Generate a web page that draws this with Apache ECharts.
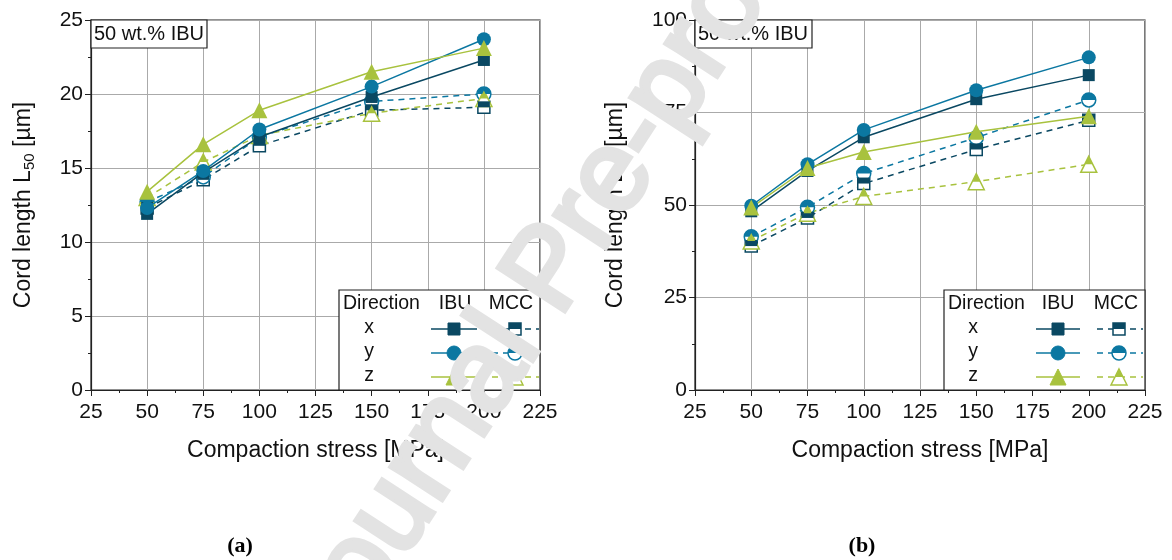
<!DOCTYPE html>
<html>
<head>
<meta charset="utf-8">
<script src="https://cdn.jsdelivr.net/npm/echarts@6.0.0/dist/echarts.min.js"></script>
<style>
html,body{margin:0;padding:0;background:#fff;}
#chart{width:1172px;height:560px;}
</style>
</head>
<body>
<div id="chart"></div>
<script>
// ---------- data ----------
const stress = [50, 75, 100, 150, 200];
// panel (a): L50
const aIBUx = [11.9, 14.7, 17.1, 19.8, 22.3];
const aIBUy = [12.3, 14.8, 17.6, 20.5, 23.7];
const aIBUz = [13.4, 16.6, 18.9, 21.5, 23.1];
const aMCCx = [12.3, 14.2, 16.5, 18.9, 19.1];
const aMCCy = [12.7, 14.4, 17.1, 19.5, 20.0];
const aMCCz = [13.0, 15.4, 17.2, 18.7, 19.7];
// panel (b): L90
const bIBUx = [48.3, 59.2, 68.3, 78.6, 85.1];
const bIBUy = [49.8, 61.0, 70.3, 81.0, 89.9];
const bIBUz = [49.3, 60.0, 64.3, 69.8, 74.0];
const bMCCx = [38.9, 46.5, 55.8, 65.0, 72.9];
const bMCCy = [41.4, 49.4, 58.5, 68.2, 78.4];
const bMCCz = [40.3, 47.8, 52.3, 56.3, 61.0];

const directions = ['x', 'y', 'z'];
const legendHead = ['Direction', 'IBU', 'MCC'];
const boxLabel = '50 wt.% IBU';
const xName = 'Compaction stress [MPa]';
const yNames = ['Cord length L{s|50} [µm]', 'Cord length L{s|90} [µm]'];
const captions = ['(a)', '(b)'];
const watermark = 'Journal Pre-proof';

// ---------- style ----------
const FONT = 'Liberation Sans, Arial, sans-serif';
const col = {x: '#0a4862', y: '#0b77a1', z: '#a8c23e'};
const sym = {x: 'rect', y: 'circle', z: 'triangle'};
const sz = {x: 12, y: 14, z: 16};
const DASH = [6, 5];

const grids = [
  {left: 91, top: 20, width: 449, height: 370},
  {left: 695, top: 20, width: 450, height: 370}
];
const yMax = [25, 100], yInt = [5, 25];

function pts(v) { return stress.map((s, i) => [s, v[i]]); }

const series = [];
function addSet(gi, d, ibu, mcc) {
  const c = col[d];
  series.push({
    type: 'line', xAxisIndex: gi, yAxisIndex: gi, data: pts(mcc),
    symbol: sym[d], symbolSize: sz[d], showSymbol: true, silent: true,
    lineStyle: {color: c, width: 1.5, type: DASH},
    itemStyle: {color: '#fff', borderColor: c, borderWidth: 1.5},
    z: 3
  });
  let hs, ho, hsym;
  const s = sz[d];
  if (d === 'x') { hsym = 'rect'; hs = [s, s / 2]; ho = [0, -s / 4]; }
  else if (d === 'y') { hsym = 'path://M0,10 A10,10 0 0 1 20,10 Z'; hs = [s, s / 2]; ho = [0, -s / 4]; }
  else { hsym = 'triangle'; hs = [s / 2, s / 2]; ho = [0, -s / 4]; }
  series.push({
    type: 'scatter', xAxisIndex: gi, yAxisIndex: gi, data: pts(mcc),
    symbol: hsym, symbolSize: hs, symbolOffset: ho, silent: true,
    itemStyle: {color: c, opacity: 1}, z: 4
  });
  series.push({
    type: 'line', xAxisIndex: gi, yAxisIndex: gi, data: pts(ibu),
    symbol: sym[d], symbolSize: sz[d], showSymbol: true, silent: true,
    lineStyle: {color: c, width: 1.5},
    itemStyle: {color: c}, z: 5
  });
}
addSet(0, 'x', aIBUx, aMCCx); addSet(0, 'y', aIBUy, aMCCy); addSet(0, 'z', aIBUz, aMCCz);
addSet(1, 'x', bIBUx, bMCCx); addSet(1, 'y', bIBUy, bMCCy); addSet(1, 'z', bIBUz, bMCCz);

function xAxis(gi) {
  return {
    type: 'value', gridIndex: gi, min: 25, max: 225, interval: 25,
    name: xName, nameLocation: 'middle', nameGap: 49,
    nameTextStyle: {fontSize: 23, color: '#111', fontFamily: FONT},
    axisLine: {show: true, onZero: false, lineStyle: {color: '#222', width: 1.2}},
    axisTick: {show: true, inside: false, length: 6, lineStyle: {color: '#222', width: 1}},
    minorTick: {show: true, splitNumber: 2, length: 3, lineStyle: {color: '#222', width: 1}},
    axisLabel: {fontSize: 21, color: '#111', fontFamily: FONT, margin: 12},
    splitLine: {show: true, lineStyle: {color: '#aaaaaa', width: 1}}
  };
}
function yAxis(gi) {
  return {
    type: 'value', gridIndex: gi, min: 0, max: yMax[gi], interval: yInt[gi],
    name: yNames[gi], nameLocation: 'middle', nameGap: gi === 0 ? 54 : 66, nameRotate: 90,
    nameTextStyle: {fontSize: 23, color: '#111', fontFamily: FONT,
      rich: {s: {fontSize: 15, color: '#111', fontFamily: FONT, padding: [12, 0, 0, 0]}}},
    axisLine: {show: true, onZero: false, lineStyle: {color: '#222', width: 1.2}},
    axisTick: {show: true, inside: false, length: 6, lineStyle: {color: '#222', width: 1}},
    minorTick: {show: true, splitNumber: 2, length: 3, lineStyle: {color: '#222', width: 1}},
    axisLabel: {fontSize: 21, color: '#111', fontFamily: FONT, margin: 8},
    splitLine: {show: true, lineStyle: {color: '#aaaaaa', width: 1}}
  };
}

// ---------- decorations (legend tables, labels) ----------
const graphics = [];
function marker(d, cx, cy, filled) {
  const c = col[d], s = sz[d];
  const st = filled ? {fill: c, stroke: c, lineWidth: 1} : {fill: '#fff', stroke: c, lineWidth: 1.5};
  let el;
  if (d === 'x') el = {type: 'rect', shape: {x: cx - s / 2, y: cy - s / 2, width: s, height: s}, style: st};
  else if (d === 'y') el = {type: 'circle', shape: {cx: cx, cy: cy, r: s / 2}, style: st};
  else el = {type: 'polygon', shape: {points: [[cx, cy - s / 2], [cx + s / 2, cy + s / 2], [cx - s / 2, cy + s / 2]]}, style: st};
  el.z = 100;
  graphics.push(el);
  if (!filled) {
    let h;
    if (d === 'x') h = {type: 'rect', shape: {x: cx - s / 2, y: cy - s / 2, width: s, height: s / 2}};
    else if (d === 'y') h = {type: 'sector', shape: {cx: cx, cy: cy, r: s / 2, r0: 0, startAngle: Math.PI, endAngle: 2 * Math.PI}};
    else h = {type: 'polygon', shape: {points: [[cx, cy - s / 2], [cx + s / 4, cy], [cx - s / 4, cy]]}};
    h.style = {fill: c};
    h.z = 101;
    graphics.push(h);
  }
}
function legendTable(L) {
  graphics.push({type: 'rect', shape: {x: L.x0, y: L.y0, width: L.x1 - L.x0, height: L.y1 - L.y0},
    style: {fill: '#fff', stroke: '#222', lineWidth: 1.2}, z: 90});
  graphics.push({type: 'text', x: L.x0 + 4, y: L.headY, z: 100,
    style: {text: legendHead[0], font: '19.5px ' + FONT, fill: '#111', textVerticalAlign: 'middle', textAlign: 'left'}});
  graphics.push({type: 'text', x: L.ibuC, y: L.headY, z: 100,
    style: {text: legendHead[1], font: '19.5px ' + FONT, fill: '#111', textVerticalAlign: 'middle', textAlign: 'center'}});
  graphics.push({type: 'text', x: L.mccC, y: L.headY, z: 100,
    style: {text: legendHead[2], font: '19.5px ' + FONT, fill: '#111', textVerticalAlign: 'middle', textAlign: 'center'}});
  directions.forEach((d, i) => {
    const y = L.rows[i];
    graphics.push({type: 'text', x: L.letX, y: y - 1, z: 100,
      style: {text: d, font: '19.5px ' + FONT, fill: '#111', textVerticalAlign: 'middle', textAlign: 'center'}});
    graphics.push({type: 'line', shape: {x1: L.ibu0, y1: y, x2: L.ibu1, y2: y}, z: 95,
      style: {stroke: col[d], lineWidth: 1.5}});
    graphics.push({type: 'line', shape: {x1: L.mcc0, y1: y, x2: L.mcc1, y2: y}, z: 95,
      style: {stroke: col[d], lineWidth: 1.5, lineDash: DASH}});
    marker(d, L.ibuM, y, true);
    marker(d, L.mccM, y, false);
  });
}
legendTable({x0: 339, x1: 540, y0: 290, y1: 390, headY: 304, ibuC: 455, mccC: 511, rows: [329, 353, 377],
  letX: 369, ibu0: 431, ibu1: 477, ibuM: 454, mcc0: 492, mcc1: 539, mccM: 515});
legendTable({x0: 944, x1: 1145, y0: 290, y1: 390, headY: 304, ibuC: 1058, mccC: 1116, rows: [329, 353, 377],
  letX: 973, ibu0: 1036, ibu1: 1080, ibuM: 1058, mcc0: 1097, mcc1: 1143, mccM: 1119});

function labelBox(x0, x1) {
  graphics.push({type: 'rect', shape: {x: x0, y: 20, width: x1 - x0, height: 28},
    style: {fill: '#fff', stroke: '#222', lineWidth: 1.2}, z: 90});
  graphics.push({type: 'text', x: x0 + 3, y: 34, z: 100,
    style: {text: boxLabel, font: '20px ' + FONT, fill: '#111', textVerticalAlign: 'middle', textAlign: 'left'}});
}
labelBox(91, 207);
labelBox(695, 812);

graphics.push({type: 'text', x: 240, y: 546, z: 100,
  style: {text: captions[0], font: 'bold 22px Liberation Serif, Times New Roman, serif', fill: '#000', textAlign: 'center', textVerticalAlign: 'middle'}});
graphics.push({type: 'text', x: 862, y: 546, z: 100,
  style: {text: captions[1], font: 'bold 22px Liberation Serif, Times New Roman, serif', fill: '#000', textAlign: 'center', textVerticalAlign: 'middle'}});

// watermark
graphics.push({type: 'text', x: 552, y: 272, rotation: 57 * Math.PI / 180, z: 200,
  style: {text: watermark, font: '115px ' + FONT, fill: '#e3e3e3', stroke: '#e3e3e3', lineWidth: 5,
    textAlign: 'center', textVerticalAlign: 'middle'}});

const chart = echarts.init(document.getElementById('chart'), null, {renderer: 'canvas'});
chart.setOption({
  animation: false,
  backgroundColor: '#fff',
  grid: grids.map(g => Object.assign({show: true, borderColor: '#222', borderWidth: 1.2, backgroundColor: 'transparent', containLabel: false}, g)),
  xAxis: [xAxis(0), xAxis(1)],
  yAxis: [yAxis(0), yAxis(1)],
  series: series,
  graphic: {elements: graphics}
});
</script>
</body>
</html>
